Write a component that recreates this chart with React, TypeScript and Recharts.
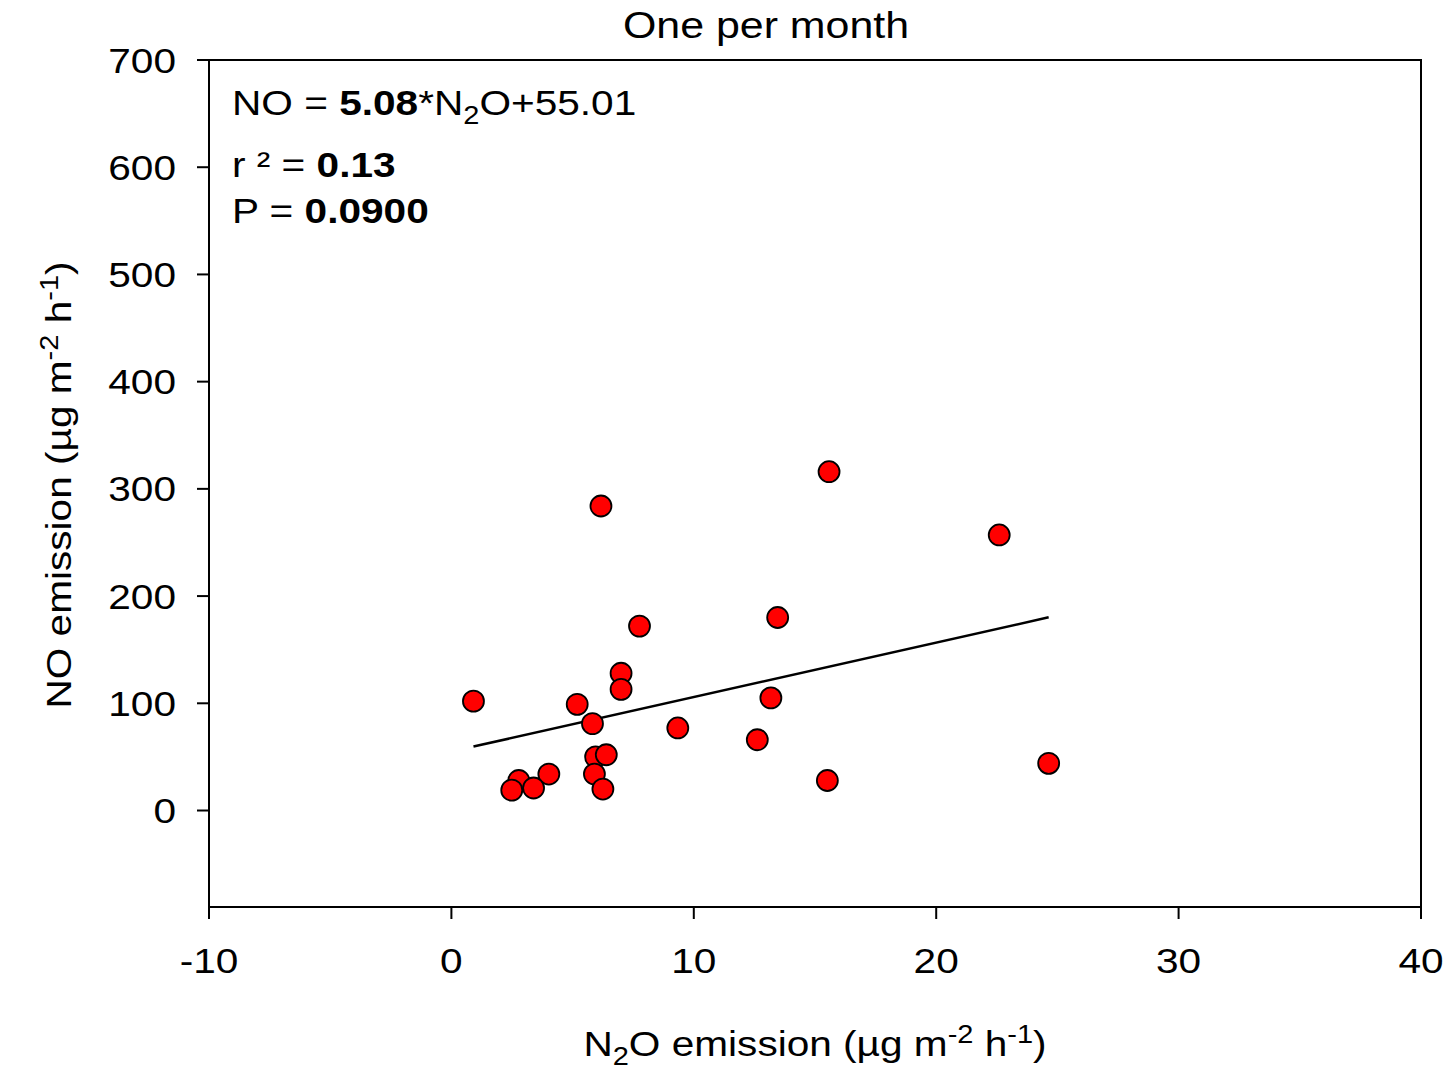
import React from "react";
import {
  ScatterChart,
  Scatter,
  XAxis,
  YAxis,
  ReferenceLine,
  ReferenceArea,
  Customized,
} from "recharts";

// N2O emission (x) and NO emission (y), one sample per month
const n2o = [
  6.17, 7.76, 7.0, 7.0, 0.91, 5.19, 5.82, 9.34, 5.95, 6.39, 4.02, 5.9, 2.78,
  3.39, 2.49, 6.25, 15.58, 22.6, 13.46, 13.18, 12.62, 15.51, 24.64,
];
const no = [
  284, 172, 128, 113, 102, 99, 81, 77, 50, 52, 34, 34, 28, 21, 19, 20, 316,
  257, 180, 105, 66, 28, 44,
];

const xTicks = [-10, 0, 10, 20, 30, 40];
const yTicks = [0, 100, 200, 300, 400, 500, 600, 700];

const slope = 5.08;
const intercept = 55.01;

const data = n2o.map((x, i) => ({ x, y: no[i] }));
const xMin = Math.min(...n2o);
const xMax = Math.max(...n2o);

const FONT = "'Liberation Sans', Arial, Helvetica, sans-serif";
const FS = 35;
const SX = 1.16;

function WideText({ x, y, rotate = 0, anchor = "start", size = FS, children }: any) {
  return (
    <text
      transform={`translate(${x},${y}) rotate(${rotate}) scale(${SX},1)`}
      textAnchor={anchor}
      fontFamily={FONT}
      fontSize={size}
      fill="#000"
    >
      {children}
    </text>
  );
}

const XTick = (props: any) => {
  const { x, y, payload } = props;
  return (
    <WideText x={x} y={y + 25} anchor="middle">
      {payload.value}
    </WideText>
  );
};

const YTick = (props: any) => {
  const { x, y, payload } = props;
  return (
    <WideText x={x} y={y + 12.5} anchor="end">
      {payload.value}
    </WideText>
  );
};

const Dot = (props: any) => {
  const { cx, cy } = props;
  return <circle cx={cx} cy={cy} r={10.5} fill="#ff0000" stroke="#000" strokeWidth={1.8} />;
};

const Labels = () => (
  <g>
    <WideText x={766} y={38} anchor="middle" size={37}>
      One per month
    </WideText>
    <WideText x={232} y={115}>
      <tspan>NO = </tspan>
      <tspan fontWeight="bold">5.08</tspan>
      <tspan>*N</tspan>
      <tspan dy={9} fontSize={25}>2</tspan>
      <tspan dy={-9}>O+55.01</tspan>
    </WideText>
    <WideText x={232} y={177}>
      <tspan>r ² = </tspan>
      <tspan fontWeight="bold">0.13</tspan>
    </WideText>
    <WideText x={232} y={223}>
      <tspan>P = </tspan>
      <tspan fontWeight="bold">0.0900</tspan>
    </WideText>
    <WideText x={815} y={1056} anchor="middle">
      <tspan>N</tspan>
      <tspan dy={9} fontSize={25}>2</tspan>
      <tspan dy={-9}>O emission (µg m</tspan>
      <tspan dy={-13} fontSize={25}>-2</tspan>
      <tspan dy={13}> h</tspan>
      <tspan dy={-13} fontSize={25}>-1</tspan>
      <tspan dy={13}>)</tspan>
    </WideText>
    <WideText x={71} y={485} rotate={-90} anchor="middle">
      <tspan>NO emission (µg m</tspan>
      <tspan dy={-13} fontSize={25}>-2</tspan>
      <tspan dy={13}> h</tspan>
      <tspan dy={-13} fontSize={25}>-1</tspan>
      <tspan dy={13}>)</tspan>
    </WideText>
  </g>
);

export default function App() {
  return (
    <div style={{ position: "absolute", left: 0, top: 0, width: 1447, height: 1071, background: "#fff" }}>
      <ScatterChart
        width={1447}
        height={1071}
        margin={{ top: 60, right: 26, bottom: 0, left: 0 }}
      >
        <XAxis
          type="number"
          dataKey="x"
          domain={[-10, 40]}
          ticks={xTicks}
          allowDataOverflow
          height={164}
          tickSize={12}
          tickMargin={29}
          tick={<XTick />}
          axisLine={{ stroke: "#000", strokeWidth: 2 }}
          tickLine={{ stroke: "#000", strokeWidth: 2 }}
        />
        <YAxis
          type="number"
          dataKey="y"
          domain={[-90, 700]}
          ticks={yTicks}
          allowDataOverflow
          width={209}
          tickSize={12}
          tickMargin={21}
          tick={<YTick />}
          axisLine={{ stroke: "#000", strokeWidth: 2 }}
          tickLine={{ stroke: "#000", strokeWidth: 2 }}
        />
        <ReferenceArea
          x1={-10}
          x2={40}
          y1={-90}
          y2={700}
          fill="none"
          fillOpacity={0}
          stroke="#000"
          strokeWidth={2}
        />
        <ReferenceLine
          segment={[
            { x: xMin, y: slope * xMin + intercept },
            { x: xMax, y: slope * xMax + intercept },
          ]}
          stroke="#000"
          strokeWidth={2.5}
        />
        <Scatter data={data} shape={<Dot />} isAnimationActive={false} />
        <Customized component={<Labels />} />
      </ScatterChart>
    </div>
  );
}
